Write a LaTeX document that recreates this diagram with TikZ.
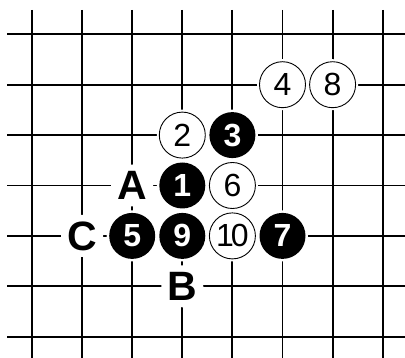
\documentclass[tikz,border=0pt]{standalone}
\usepackage{fontspec}
\setmainfont{Liberation Sans}
\begin{document}
\begin{tikzpicture}[x=1pt,y=-1pt,
  gridline/.style={line width=1.9pt, black},
  stonebase/.style={circle, minimum size=46pt, inner sep=0pt,
    preaction={draw=white, line width=5pt}},
  bstone/.style={stonebase, fill=black, text=white,
    font=\fontsize{32}{32}\selectfont\bfseries},
  wstone/.style={stonebase, fill=white, draw=black, line width=0.9pt, text=black,
    font=\fontsize{32}{32}\selectfont},
  lab/.style={circle, fill=white, minimum size=42pt, inner sep=0pt,
    font=\fontsize{41}{41}\selectfont\bfseries}]
\useasboundingbox (0,0) rectangle (405,358);
\def\gx#1{32+50.1*#1}
\def\gy#1{34.3+50.4*#1}
% grid
\foreach \j in {0,...,6} \draw[gridline] (7,{\gy{\j}}) -- (405,{\gy{\j}});
\foreach \i in {0,...,7} \draw[gridline] ({\gx{\i}},10) -- ({\gx{\i}},358);
% stones and labels
\node[wstone] (s4) at ({\gx{5}},{\gy{1}}) {4};
\node[wstone] (s8) at ({\gx{6}},{\gy{1}}) {8};
\node[wstone] (s2) at ({\gx{3}},{\gy{2}}) {2};
\node[bstone] (s3) at ({\gx{4}},{\gy{2}}) {3};
\node[lab]    (la) at ({\gx{2}},{\gy{3}}) {A};
\node[bstone] (s1) at ({\gx{3}},{\gy{3}}) {1};
\node[wstone] (s6) at ({\gx{4}},{\gy{3}}) {6};
\node[lab]    (lc) at ({\gx{1}},{\gy{4}}) {C};
\node[bstone] (s5) at ({\gx{2}},{\gy{4}}) {5};
\node[bstone] (s9) at ({\gx{3}},{\gy{4}}) {9};
\node[wstone] (s10) at ({\gx{4}},{\gy{4}}) {1\kern-3pt0};
\node[bstone] (s7) at ({\gx{5}},{\gy{4}}) {7};
\node[lab]    (lb) at ({\gx{3}},{\gy{5}}) {B};
\end{tikzpicture}
\end{document}
